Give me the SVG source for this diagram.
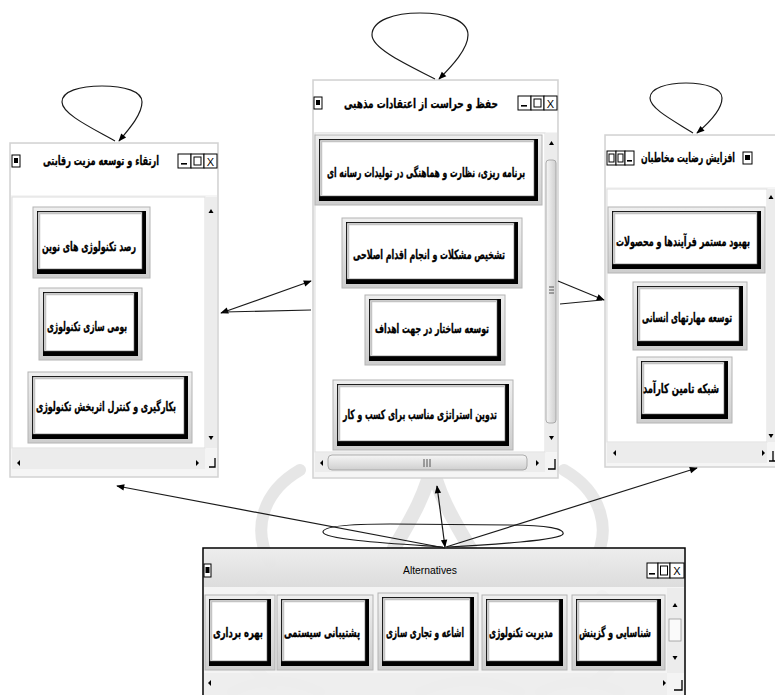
<svg xmlns="http://www.w3.org/2000/svg" width="775" height="695" viewBox="0 0 775 695">
<defs>
<linearGradient id="btnG" x1="0" y1="0" x2="0" y2="1"><stop offset="0" stop-color="#efefef"/><stop offset="1" stop-color="#cdcdcd"/></linearGradient>
<linearGradient id="vthG" x1="0" y1="0" x2="1" y2="0"><stop offset="0" stop-color="#f6f6f6"/><stop offset="1" stop-color="#cfcfcf"/></linearGradient>
<linearGradient id="hthG" x1="0" y1="0" x2="0" y2="1"><stop offset="0" stop-color="#f6f6f6"/><stop offset="1" stop-color="#cfcfcf"/></linearGradient>
<linearGradient id="titleG" x1="0" y1="0" x2="0" y2="1"><stop offset="0" stop-color="#ececec"/><stop offset="1" stop-color="#d8d8d8"/></linearGradient>
<marker id="ah" viewBox="0 0 10 10" refX="9" refY="5" markerWidth="9" markerHeight="8" markerUnits="userSpaceOnUse" orient="auto-start-reverse"><path d="M0,1 L10,5 L0,9 z" fill="#000"/></marker>
<style>
.win{fill:#f5f5f5;stroke:#d2d2d2;stroke-width:1.5}
.tb{fill:#fff}
.pnl{fill:#fff;stroke:#dedede;stroke-width:1}
.trk{fill:#ececec}
.ico{fill:#fff;stroke:#000;stroke-width:1}
.blk{fill:#000}
.bo{fill:url(#btnG);stroke:#b4b4b4;stroke-width:1}
.bk{fill:#000}
.bf{fill:#fff;stroke:#666;stroke-width:0.6}
.bv{fill:none;stroke:#c4c4c4;stroke-width:1.5}
.ttl{font-family:'DejaVu Sans',sans-serif;font-weight:bold;font-size:13px;fill:#000;stroke:#000;stroke-width:0.3;text-anchor:middle}
.lbl{font-family:'DejaVu Sans',sans-serif;font-weight:bold;font-size:13px;fill:#000;stroke:#000;stroke-width:0.35;text-anchor:middle}
.sym{font-family:'Liberation Sans',sans-serif;font-size:11px;fill:#000;text-anchor:middle}
.grip{stroke:#555;stroke-width:1}
.cor{fill:none;stroke:#000;stroke-width:1.3}
.edge{fill:none;stroke:#1a1a1a;stroke-width:1.2}
.wm{fill:none;stroke:#9a9a9a;stroke-linecap:round}
</style>
</defs>
<rect width="775" height="695" fill="#fff"/>

<!-- Watermark -->
<g id="watermark" opacity="0.24">
<path class="wm" stroke-width="14" d="M394,548 C412,518 428,490 432,462 C436,490 452,518 470,548"/>
<path class="wm" stroke-width="12" d="M300,470 C262,492 252,530 270,562"/>
<path class="wm" stroke-width="12" d="M564,470 C602,492 612,530 594,562"/>
<path class="wm" stroke-width="12" d="M262,596 C236,620 236,660 272,684"/>
<path class="wm" stroke-width="12" d="M602,596 C628,620 628,660 592,684"/>
<path class="wm" stroke-width="10" d="M232,692 Q275,670 320,692 M420,692 Q470,670 520,692 M540,692 Q580,672 620,692"/>
</g>

<!-- Left window -->
<g id="win-left">
<rect class="win" x="10" y="143" width="208" height="334"/>
<rect class="tb" x="11" y="144" width="206" height="51"/>
<rect class="ico" x="12" y="155" width="8" height="12"/><rect class="blk" x="14" y="158" width="4" height="5"/>
<text class="ttl" x="101" y="165" textLength="116" lengthAdjust="spacingAndGlyphs">ارتقاء و توسعه مزیت رقابتی</text>
<rect class="ico" x="178" y="154" width="13" height="14"/><rect class="blk" x="181" y="163" width="6" height="1.6"/>
<rect class="ico" x="191" y="154" width="13" height="14"/><rect x="194" y="157" width="7" height="8" fill="none" stroke="#000"/>
<rect class="ico" x="204" y="154" width="13" height="14"/><text class="sym" x="210.5" y="165.5">X</text>
<rect class="pnl" x="12" y="197" width="193" height="251"/>
<rect class="trk" x="205" y="197" width="12" height="251"/>
<polygon class="blk" points="208.5,213 213.5,213 211,209"/>
<polygon class="blk" points="208.5,436 213.5,436 211,440"/>
<rect class="trk" x="12" y="449" width="193" height="20"/>
<polygon class="blk" points="20,460 20,466 17,463"/>
<polygon class="blk" points="196,460 196,466 199,463"/>
<rect x="205" y="449" width="12" height="20" fill="#f4f4f4"/>
<path class="cor" d="M209,467 H215 V458"/>
</g>
<g id="n-L1">
<rect class="bo" x="33" y="207" width="117" height="71"/><rect class="bk" x="37" y="211" width="109" height="63"/><rect class="bf" x="38" y="212" width="104" height="57"/><path class="bv" d="M39.5,268 V213.5 H141"/>
<text class="lbl" x="89" y="251" textLength="94" lengthAdjust="spacingAndGlyphs">رصد تکنولوژی های نوین</text>
</g>
<g id="n-L2">
<rect class="bo" x="39" y="288" width="103" height="72"/><rect class="bk" x="43" y="292" width="95" height="64"/><rect class="bf" x="44" y="293" width="90" height="58"/><path class="bv" d="M45.5,350 V294.5 H133"/>
<text class="lbl" x="87" y="331" textLength="80" lengthAdjust="spacingAndGlyphs">بومی سازی تکنولوژی</text>
</g>
<g id="n-L3">
<rect class="bo" x="28" y="372" width="164" height="71"/><rect class="bk" x="32" y="376" width="156" height="63"/><rect class="bf" x="33" y="377" width="151" height="57"/><path class="bv" d="M34.5,433 V378.5 H183"/>
<text class="lbl" x="106" y="411" textLength="140" lengthAdjust="spacingAndGlyphs">بکارگیری و کنترل اثربخش تکنولوژی</text>
</g>

<!-- Center window -->
<g id="win-center">
<rect class="win" x="313" y="80" width="245" height="398"/>
<rect class="tb" x="314" y="81" width="243" height="51"/>
<rect class="ico" x="314" y="97" width="8" height="12"/><rect class="blk" x="316" y="100" width="4" height="5"/>
<text class="ttl" x="421" y="108" textLength="154" lengthAdjust="spacingAndGlyphs">حفظ و حراست از اعتقادات مذهبی</text>
<rect class="ico" x="518" y="96" width="13" height="14"/><rect class="blk" x="521" y="105" width="6" height="1.6"/>
<rect class="ico" x="531" y="96" width="13" height="14"/><rect x="534" y="99" width="7" height="8" fill="none" stroke="#000"/>
<rect class="ico" x="544" y="96" width="13" height="14"/><text class="sym" x="550.5" y="107.5">X</text>
<rect class="pnl" x="315" y="133" width="230" height="319"/>
<rect class="trk" x="545" y="133" width="12" height="319"/>
<rect x="546" y="160" width="10" height="263" rx="3" fill="url(#vthG)" stroke="#9c9c9c" stroke-width="0.8"/>
<path class="grip" d="M549,287 H554 M549,290 H554 M549,293 H554"/>
<polygon class="blk" points="549,145 554,145 551.5,141"/>
<polygon class="blk" points="549,436 554,436 551.5,440"/>
<rect class="trk" x="315" y="453" width="230" height="19"/>
<rect x="328" y="455" width="199" height="15" rx="4" fill="url(#hthG)" stroke="#9c9c9c" stroke-width="0.8"/>
<path class="grip" d="M424,459 V467 M427,459 V467 M430,459 V467"/>
<polygon class="blk" points="323,460 323,466 320,463"/>
<polygon class="blk" points="536,460 536,466 539,463"/>
<rect x="545" y="453" width="12" height="19" fill="#f4f4f4"/>
<path class="cor" d="M548,469 H555 V459"/>
</g>
<g id="n-C1">
<rect class="bo" x="315" y="135" width="227" height="70"/><rect class="bk" x="319" y="139" width="219" height="62"/><rect class="bf" x="320" y="140" width="214" height="56"/><path class="bv" d="M321.5,195 V141.5 H533"/>
<text class="lbl" x="426" y="177" textLength="198" lengthAdjust="spacingAndGlyphs">برنامه ریزی، نظارت و هماهنگی در تولیدات رسانه ای</text>
</g>
<g id="n-C2">
<rect class="bo" x="342" y="218" width="180" height="70"/><rect class="bk" x="346" y="222" width="172" height="62"/><rect class="bf" x="347" y="223" width="167" height="56"/><path class="bv" d="M348.5,278 V224.5 H513"/>
<text class="lbl" x="429" y="259" textLength="152" lengthAdjust="spacingAndGlyphs">تشخیص مشکلات و انجام اقدام اصلاحی</text>
</g>
<g id="n-C3">
<rect class="bo" x="365" y="295" width="140" height="70"/><rect class="bk" x="369" y="299" width="132" height="62"/><rect class="bf" x="370" y="300" width="127" height="56"/><path class="bv" d="M371.5,355 V301.5 H496"/>
<text class="lbl" x="432" y="333" textLength="114" lengthAdjust="spacingAndGlyphs">توسعه ساختار در جهت اهداف</text>
</g>
<g id="n-C4">
<rect class="bo" x="333" y="380" width="180" height="70"/><rect class="bk" x="337" y="384" width="172" height="62"/><rect class="bf" x="338" y="385" width="167" height="56"/><path class="bv" d="M339.5,440 V386.5 H504"/>
<text class="lbl" x="420" y="419" textLength="154" lengthAdjust="spacingAndGlyphs">تدوین استراتژی مناسب برای کسب و کار</text>
</g>

<!-- Right window -->
<g id="win-right">
<rect class="win" x="605" y="135" width="175" height="332"/>
<rect class="tb" x="606" y="136" width="174" height="51"/>
<rect class="ico" x="607" y="151" width="9" height="14"/><rect x="609" y="154" width="5" height="8" fill="none" stroke="#000"/>
<rect class="ico" x="616" y="151" width="9" height="14"/><rect x="618" y="154" width="5" height="8" fill="none" stroke="#000"/>
<rect class="ico" x="625" y="151" width="9" height="14"/><rect class="blk" x="627" y="160" width="5" height="1.6"/>
<text class="ttl" x="688" y="162" textLength="94" lengthAdjust="spacingAndGlyphs">افزایش رضایت مخاطبان</text>
<rect class="ico" x="743" y="152" width="9" height="12"/><rect class="blk" x="745" y="155" width="5" height="5"/>
<rect class="pnl" x="607" y="189" width="160" height="253"/>
<rect class="trk" x="767" y="189" width="10" height="253"/>
<polygon class="blk" points="768.5,199 773.5,199 771,195"/>
<polygon class="blk" points="768.5,434 773.5,434 771,438"/>
<rect class="trk" x="607" y="443" width="160" height="20"/>
<polygon class="blk" points="616,450 616,456 613,453"/>
<polygon class="blk" points="762,450 762,456 765,453"/>
<path class="cor" d="M769,461 H775 M773,451 V461"/>
</g>
<g id="n-R1">
<rect class="bo" x="608" y="207" width="157" height="66"/><rect class="bk" x="612" y="211" width="149" height="58"/><rect class="bf" x="613" y="212" width="144" height="52"/><path class="bv" d="M614.5,263 V213.5 H756"/>
<text class="lbl" x="683" y="246" textLength="134" lengthAdjust="spacingAndGlyphs">بهبود مستمر فرآیندها و محصولات</text>
</g>
<g id="n-R2">
<rect class="bo" x="633" y="282" width="114" height="68"/><rect class="bk" x="637" y="286" width="106" height="60"/><rect class="bf" x="638" y="287" width="101" height="54"/><path class="bv" d="M639.5,340 V288.5 H738"/>
<text class="lbl" x="687" y="322" textLength="90" lengthAdjust="spacingAndGlyphs">توسعه مهارتهای انسانی</text>
</g>
<g id="n-R3">
<rect class="bo" x="637" y="357" width="95" height="66"/><rect class="bk" x="641" y="361" width="87" height="58"/><rect class="bf" x="642" y="362" width="82" height="52"/><path class="bv" d="M643.5,413 V363.5 H723"/>
<text class="lbl" x="681" y="393" textLength="76" lengthAdjust="spacingAndGlyphs">شبکه تامین کارآمد</text>
</g>

<!-- Bottom window -->
<g id="win-alt">
<rect x="203" y="548" width="482" height="150" fill="#f2f2f2" fill-opacity="0.85" stroke="#000" stroke-width="1.5"/>
<rect x="204" y="549" width="480" height="38" fill="url(#titleG)" fill-opacity="0.85"/>
<rect class="ico" x="204" y="564" width="7" height="13"/><rect class="blk" x="205.5" y="567" width="4" height="6"/>
<text class="sym" x="430" y="574" textLength="54" lengthAdjust="spacingAndGlyphs">Alternatives</text>
<rect class="ico" x="647" y="563" width="11" height="15"/><rect class="blk" x="649" y="573" width="6" height="1.6"/>
<rect class="ico" x="658" y="563" width="12" height="15"/><rect x="660.5" y="566" width="7" height="9" fill="none" stroke="#000"/>
<rect class="ico" x="670" y="563" width="14" height="15"/><text class="sym" x="677" y="575">X</text>
<rect class="trk" x="667" y="588" width="17" height="85"/>
<polygon class="blk" points="672.5,607 677.5,607 675,603"/>
<rect x="669" y="619" width="12" height="22" fill="#fafafa" stroke="#999" stroke-width="0.8"/>
<polygon class="blk" points="672.5,656 677.5,656 675,660"/>
<rect class="trk" x="204" y="673" width="463" height="22" fill-opacity="0.85"/>
<polygon class="blk" points="211,680 211,686 208,683"/>
<polygon class="blk" points="663,680 663,686 666,683"/>
<path class="cor" d="M674,690 H682 V680"/>
</g>
<g id="n-B1">
<rect class="bo" x="205" y="595" width="70" height="75"/><rect class="bk" x="209" y="599" width="62" height="67"/><rect class="bf" x="210" y="600" width="57" height="61"/><path class="bv" d="M211.5,660 V601.5 H266"/>
<text class="lbl" x="238" y="637" textLength="50" lengthAdjust="spacingAndGlyphs">بهره برداری</text>
</g>
<g id="n-B2">
<rect class="bo" x="277" y="595" width="96" height="75"/><rect class="bk" x="281" y="599" width="88" height="67"/><rect class="bf" x="282" y="600" width="83" height="61"/><path class="bv" d="M283.5,660 V601.5 H364"/>
<text class="lbl" x="322" y="637" textLength="76" lengthAdjust="spacingAndGlyphs">پشتیبانی سیستمی</text>
</g>
<g id="n-B3">
<rect class="bo" x="378" y="593" width="100" height="77"/><rect class="bk" x="382" y="597" width="92" height="69"/><rect class="bf" x="383" y="598" width="87" height="63"/><path class="bv" d="M384.5,660 V599.5 H469"/>
<text class="lbl" x="425" y="637" textLength="78" lengthAdjust="spacingAndGlyphs">اشاعه و تجاری سازی</text>
</g>
<g id="n-B4">
<rect class="bo" x="482" y="595" width="85" height="75"/><rect class="bk" x="486" y="599" width="77" height="67"/><rect class="bf" x="487" y="600" width="72" height="61"/><path class="bv" d="M488.5,660 V601.5 H558"/>
<text class="lbl" x="521" y="637" textLength="64" lengthAdjust="spacingAndGlyphs">مدیریت تکنولوژی</text>
</g>
<g id="n-B5">
<rect class="bo" x="572" y="595" width="93" height="75"/><rect class="bk" x="576" y="599" width="85" height="67"/><rect class="bf" x="577" y="600" width="80" height="61"/><path class="bv" d="M578.5,660 V601.5 H656"/>
<text class="lbl" x="615" y="637" textLength="72" lengthAdjust="spacingAndGlyphs">شناسایی و گزینش</text>
</g>

<!-- Connectors -->
<g id="connectors">
<path class="edge" marker-end="url(#ah)" d="M115,141 C92,128 62,114 62,102 C62,91 80,86 102,86 C124,86 142,91 142,102 C142,114 130,128 119,141"/>
<path class="edge" marker-end="url(#ah)" d="M435,79 C410,66 372,49 372,35 C372,20 395,13 420,13 C445,13 468,20 468,35 C468,49 452,66 439,79"/>
<path class="edge" marker-end="url(#ah)" d="M693,133 C676,122 650,109 650,98 C650,88 667,83 686,83 C705,83 722,88 722,98 C722,109 710,122 697,133"/>
<path class="edge" marker-start="url(#ah)" marker-end="url(#ah)" d="M221,313 L311,281"/>
<path class="edge" d="M311,310 L224,312"/>
<path class="edge" marker-end="url(#ah)" d="M558,281 L604,300"/>
<path class="edge" d="M560,304 L602,300"/>
<path class="edge" marker-end="url(#ah)" d="M445,548 L117,486"/>
<path class="edge" marker-start="url(#ah)" marker-end="url(#ah)" d="M437,486 L445,547"/>
<path class="edge" marker-end="url(#ah)" d="M446,547 L697,468"/>
<path class="edge" d="M443,547 C400,544 323,540 323,532 C323,526 350,524 390,524 L510,525 C548,525 565,529 563,534 C561,540 490,545 447,547"/>
</g>
</svg>
